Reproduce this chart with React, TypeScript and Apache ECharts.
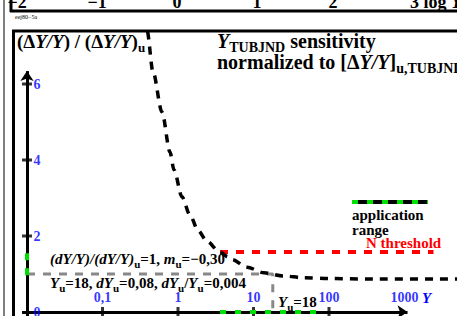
import React, { useEffect, useRef } from 'react';
import * as echarts from 'echarts';

// ---- data (x = log10 Y, y = (dY/Y)/(dY/Y)u) ----
const curveLogY = [-0.6, -0.411, -0.331, -0.212, -0.106, -0.053, 0.053, 0.159, 0.265, 0.384, 0.543, 0.662, 0.715, 0.914, 1.139, 1.391, 1.669, 2.0, 2.5, 3.7];
const curveValue = [9.3, 7.42, 6.32, 5.26, 4.21, 3.74, 3.03, 2.55, 2.15, 1.86, 1.6, 1.45, 1.38, 1.18, 1.03, 0.95, 0.9, 0.88, 0.87, 0.87];
const thresholdLogY = [0.556, 3.384];
const thresholdValue = [1.58, 1.58];
const Yu = 18;
const refValue = 1;
const refFootValue = 0.1;
const appRangeLogY = [0.556, 1.854];
const appRangeValue = [0.97, 1.58];
const legendLogY = [2.305, 3.311];
const legendValue = 2.895;
const xTickLog = [-1, 0, 1, 2, 3];
const xTickText = ['0,1', '1', '10', '100', '1000'];
const yTickValue = [0, 2, 4, 6];
const yTickText = ['0', '2', '4', '6'];
const xAxisStart = -2.066;
const xAxisEnd = 3.04;
const yAxisEnd = 6.34;

const XMIN = -2 - 14 / 75.5;
const XMAX = -2 + 430 / 75.5;
const YMIN = -4 / 38;
const YMAX = 282 / 38;

const FONT = 'Liberation Serif, serif';
const f = (size: number, italic = false) => `${italic ? 'italic ' : ''}bold ${size}px ${FONT}`;
const BLUE = '#0000ff';
const GREEN = '#00e000';

function rich(main: number, sub: number, pad: number, color = '#000') {
  return {
    n: { font: f(main), fill: color },
    i: { font: f(main, true), fill: color },
    s: { font: f(sub), fill: color, padding: [pad, 0, 0, 0] },
  };
}

function txt(x: number, y: number, text: string, r: any, align = 'left') {
  return {
    type: 'text', x, y, silent: true, z: 100,
    style: { text, rich: r, font: f(15), fill: '#000', align, verticalAlign: 'middle', textAlign: align, textVerticalAlign: 'middle' },
  };
}

function ln(x1: number, y1: number, x2: number, y2: number, w: number) {
  return { type: 'line', silent: true, z: 100, shape: { x1, y1, x2, y2 }, style: { stroke: '#000', lineWidth: w } };
}

export default function App() {
  const ref = useRef<HTMLDivElement>(null);
  useEffect(() => {
    const chart = echarts.init(ref.current!, null, { renderer: 'svg' });
    const logYu = Math.log10(Yu);
    const top = rich(18, 13, 12);
    const left = rich(19, 13, 12);
    const title = rich(20, 14, 13);
    const mid = rich(15, 11, 10);
    const option: any = {
      animation: false,
      backgroundColor: '#fff',
      grid: { left: 13, right: 0, top: 30, bottom: 0, containLabel: false },
      xAxis: { type: 'value', min: XMIN, max: XMAX, show: false },
      yAxis: { type: 'value', min: YMIN, max: YMAX, show: false },
      series: [
        {
          type: 'line', z: 2, symbol: 'none',
          data: [[-2, refValue], [logYu, refValue], [logYu, refFootValue]],
          lineStyle: { color: '#888', width: 3, type: [8, 8] },
        },
        {
          type: 'line', z: 3, symbol: 'none', data: [],
          markLine: {
            silent: true, symbol: ['none', 'arrow'], symbolSize: 10,
            label: { show: false },
            lineStyle: { color: '#000', width: 3, type: 'solid' },
            data: [
              [{ coord: [xAxisStart, 0] }, { coord: [xAxisEnd, 0] }],
              [{ coord: [-2, YMIN] }, { coord: [-2, yAxisEnd] }],
            ],
          },
        },
        {
          type: 'scatter', z: 4, symbol: 'rect',
          itemStyle: { color: '#000' },
          data: [
            ...xTickLog.slice(0, 4).map((v) => ({ value: [v, 0], symbolSize: [3, 10] })),
            ...yTickValue.slice(1).map((v) => ({ value: [-2, v], symbolSize: [10, 3] })),
          ],
        },
        {
          type: 'line', z: 3, symbol: 'none',
          data: thresholdLogY.map((x, i) => [x, thresholdValue[i]]),
          lineStyle: { color: '#ff0000', width: 4, type: [8, 8] },
        },
        {
          type: 'line', z: 5, symbol: 'none', smooth: 0.3, smoothMonotone: 'x',
          data: curveLogY.map((x, i) => [x, curveValue[i]]),
          lineStyle: { color: '#000', width: 3.5, type: [8, 7] },
        },
        {
          type: 'line', z: 6, symbol: 'none',
          data: appRangeLogY.map((x) => [x, 0]),
          lineStyle: { color: GREEN, width: 4, type: [6, 9] },
        },
        {
          type: 'line', z: 6, symbol: 'none',
          data: appRangeValue.map((v) => [-2, v]),
          lineStyle: { color: GREEN, width: 4, type: [7, 8] },
        },
        {
          type: 'line', z: 5, symbol: 'none',
          data: legendLogY.map((x) => [x, legendValue]),
          lineStyle: { color: '#000', width: 4, type: 'solid' },
        },
        {
          type: 'line', z: 6, symbol: 'none',
          data: legendLogY.map((x) => [x, legendValue]),
          lineStyle: { color: GREEN, width: 4, type: [6, 9] },
        },
        {
          type: 'scatter', z: 7, symbolSize: 1, itemStyle: { color: 'rgba(0,0,0,0)' },
          data: xTickLog.map((v, i) => ({ value: [v, 0], name: xTickText[i] })),
          label: { show: true, position: 'top', distance: 7, formatter: '{b}', color: BLUE, fontWeight: 'bold', fontSize: 14, fontFamily: FONT },
        },
        {
          type: 'scatter', z: 7, symbolSize: 1, itemStyle: { color: 'rgba(0,0,0,0)' },
          data: yTickValue.map((v, i) => ({ value: [-2, v], name: yTickText[i] })),
          label: { show: true, position: 'right', distance: 6, formatter: '{b}', color: BLUE, fontWeight: 'bold', fontSize: 14, fontFamily: FONT },
        },
      ],
      graphic: {
        elements: [
          ln(4, 0, 4, 316, 1),
          ln(11, 0, 11, 12, 3),
          ln(10, 11, 457, 11, 3),
          ln(13.5, 30, 13.5, 316, 3),
          ln(12, 31, 457, 31, 3),
          txt(17, 2, '{n|−2}', top, 'center'),
          txt(97, 2, '{n|−1}', top, 'center'),
          txt(177, 2, '{n|0}', top, 'center'),
          txt(257, 2, '{n|1}', top, 'center'),
          txt(333, 2, '{n|2}', top, 'center'),
          txt(410, 2, '{n|3 log }{i|Y}', top),
          { type: 'text', x: 15, y: 16.5, silent: true, z: 100, style: { text: 'eej80−5a', font: `6px ${FONT}`, fill: '#000', verticalAlign: 'middle', textVerticalAlign: 'middle' } },
          txt(17, 41, '{n|(Δ}{i|Y/Y}{n|) / (Δ}{i|Y/Y}{n|)}{s|u}', left),
          txt(217, 41, '{i|Y}{s|TUBJND}{n| sensitivity}', title),
          txt(217, 62, '{n|normalized to [Δ}{i|Y/Y}{n|]}{s|u,TUBJND}', title),
          txt(50, 259, '{i|(dY/Y)/(dY/Y)}{s|u}{n|=1, }{i|m}{s|u}{n|=−0,30}', mid),
          txt(50, 283, '{i|Y}{s|u}{n|=18, }{i|dY}{s|u}{n|=0,08, }{i|dY}{s|u}{n|/}{i|Y}{s|u}{n|=0,004}', mid),
          txt(278, 302, '{i|Y}{s|u}{n|=18}', mid),
          txt(352, 215, '{n|application}', mid),
          txt(352, 230, '{n|range}', mid),
          txt(366, 243, '{n|N threshold}', rich(15, 11, 10, '#ff0000')),
          txt(422, 298, '{i|Y}', rich(15, 11, 10, BLUE)),
        ],
      },
    };
    chart.setOption(option);
    return () => chart.dispose();
  }, []);
  return <div ref={ref} style={{ position: 'fixed', left: 0, top: 0, width: 457, height: 316, background: '#fff' }} />;
}
